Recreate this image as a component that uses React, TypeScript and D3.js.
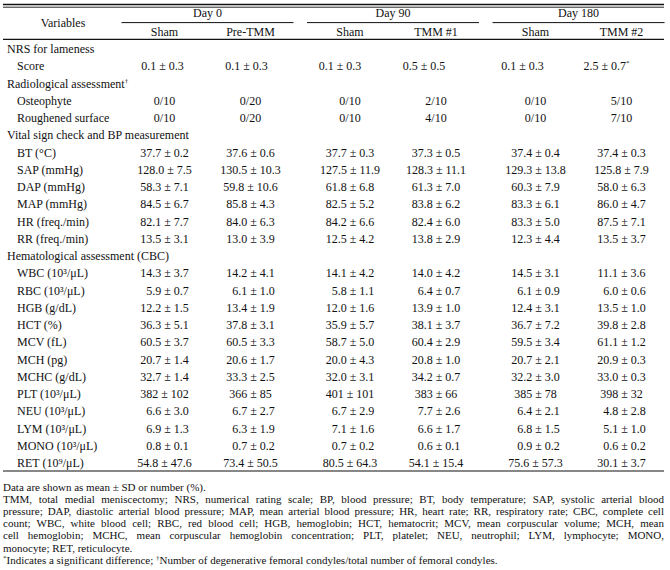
import React, { useMemo } from "react";
import * as d3 from "d3";

const groups = ["Day 0", "Day 90", "Day 180"];
const columns = ["Sham", "Pre-TMM", "Sham", "TMM #1", "Sham", "TMM #2"];
const columnGroup = ["Day 0", "Day 0", "Day 90", "Day 90", "Day 180", "Day 180"];

const rowLabels = [
  "NRS for lameness", "Score", "Radiological assessment", "Osteophyte", "Roughened surface",
  "Vital sign check and BP measurement", "BT (°C)", "SAP (mmHg)", "DAP (mmHg)", "MAP (mmHg)",
  "HR (freq./min)", "RR (freq./min)", "Hematological assessment (CBC)", "WBC (10³/μL)",
  "RBC (10³/μL)", "HGB (g/dL)", "HCT (%)", "MCV (fL)", "MCH (pg)", "MCHC (g/dL)",
  "PLT (10³/μL)", "NEU (10³/μL)", "LYM (10³/μL)", "MONO (10³/μL)", "RET (10⁹/μL)",
];
const sectionRows = [
  "NRS for lameness", "Radiological assessment",
  "Vital sign check and BP measurement", "Hematological assessment (CBC)",
];
const labelMarks: Record<string, string> = { "Radiological assessment": "†" };

const shamDay0 = ["", "0.1 ± 0.3", "", "0/10", "0/10", "", "37.7 ± 0.2", "128.0 ± 7.5", "58.3 ± 7.1", "84.5 ± 6.7", "82.1 ± 7.7", "13.5 ± 3.1", "", "14.3 ± 3.7", "5.9 ± 0.7", "12.2 ± 1.5", "36.3 ± 5.1", "60.5 ± 3.7", "20.7 ± 1.4", "32.7 ± 1.4", "382 ± 102", "6.6 ± 3.0", "6.9 ± 1.3", "0.8 ± 0.1", "54.8 ± 47.6"];
const preTMM = ["", "0.1 ± 0.3", "", "0/20", "0/20", "", "37.6 ± 0.6", "130.5 ± 10.3", "59.8 ± 10.6", "85.8 ± 4.3", "84.0 ± 6.3", "13.0 ± 3.9", "", "14.2 ± 4.1", "6.1 ± 1.0", "13.4 ± 1.9", "37.8 ± 3.1", "60.5 ± 3.3", "20.6 ± 1.7", "33.3 ± 2.5", "366 ± 85", "6.7 ± 2.7", "6.3 ± 1.9", "0.7 ± 0.2", "73.4 ± 50.5"];
const shamDay90 = ["", "0.1 ± 0.3", "", "0/10", "0/10", "", "37.7 ± 0.3", "127.5 ± 11.9", "61.8 ± 6.8", "82.5 ± 5.2", "84.2 ± 6.6", "12.5 ± 4.2", "", "14.1 ± 4.2", "5.8 ± 1.1", "12.0 ± 1.6", "35.9 ± 5.7", "58.7 ± 5.0", "20.0 ± 4.3", "32.0 ± 3.1", "401 ± 101", "6.7 ± 2.9", "7.1 ± 1.6", "0.7 ± 0.2", "80.5 ± 64.3"];
const tmm1 = ["", "0.5 ± 0.5", "", "2/10", "4/10", "", "37.3 ± 0.5", "128.3 ± 11.1", "61.3 ± 7.0", "83.8 ± 6.2", "82.4 ± 6.0", "13.8 ± 2.9", "", "14.0 ± 4.2", "6.4 ± 0.7", "13.9 ± 1.0", "38.1 ± 3.7", "60.4 ± 2.9", "20.8 ± 1.0", "34.2 ± 0.7", "383 ± 66", "7.7 ± 2.6", "6.6 ± 1.7", "0.6 ± 0.1", "54.1 ± 15.4"];
const shamDay180 = ["", "0.1 ± 0.3", "", "0/10", "0/10", "", "37.4 ± 0.4", "129.3 ± 13.8", "60.3 ± 7.9", "83.3 ± 6.1", "83.3 ± 5.0", "12.3 ± 4.4", "", "14.5 ± 3.1", "6.1 ± 0.9", "12.4 ± 3.1", "36.7 ± 7.2", "59.5 ± 3.4", "20.7 ± 2.1", "32.2 ± 3.0", "385 ± 78", "6.4 ± 2.1", "6.8 ± 1.5", "0.9 ± 0.2", "75.6 ± 57.3"];
const tmm2 = ["", "2.5 ± 0.7*", "", "5/10", "7/10", "", "37.4 ± 0.3", "125.8 ± 7.9", "58.0 ± 6.3", "86.0 ± 4.7", "87.5 ± 7.1", "13.5 ± 3.7", "", "11.1 ± 3.6", "6.0 ± 0.6", "13.5 ± 1.0", "39.8 ± 2.8", "61.1 ± 1.2", "20.9 ± 0.3", "33.0 ± 0.3", "398 ± 32", "4.8 ± 2.8", "5.1 ± 1.0", "0.6 ± 0.2", "30.1 ± 3.7"];
const columnValues = [shamDay0, preTMM, shamDay90, tmm1, shamDay180, tmm2];

const footnoteLines = [
  "Data are shown as mean ± SD or number (%).",
  "TMM, total medial meniscectomy; NRS, numerical rating scale; BP, blood pressure; BT, body temperature; SAP, systolic arterial blood",
  "pressure; DAP, diastolic arterial blood pressure; MAP, mean arterial blood pressure; HR, heart rate; RR, respiratory rate; CBC, complete cell",
  "count; WBC, white blood cell; RBC, red blood cell; HGB, hemoglobin; HCT, hematocrit; MCV, mean corpuscular volume; MCH, mean",
  "cell hemoglobin; MCHC, mean corpuscular hemoglobin concentration; PLT, platelet; NEU, neutrophil; LYM, lymphocyte; MONO,",
  "monocyte; RET, reticulocyte.",
];
const justified = [false, true, true, true, true, false];
const noteStar = "Indicates a significant difference; ";
const noteDagger = "Number of degenerative femoral condyles/total number of femoral condyles.";

const W = 670;
const H = 570;
const FONT = "'Liberation Serif', 'Times New Roman', serif";
const INK = "#111";

export default function App() {
  const left = 3;
  const right = 664;
  const yRow = d3.scalePoint<number>().domain(d3.range(rowLabels.length)).range([49, 463]);
  const xGroup = d3.scaleBand<string>().domain(groups).range([114.75, 671.25]);
  const xInner = d3.scaleBand<string>().domain(["first", "second"]).range([-86, 86]);
  const colX = columns.map((_, i) => {
    const g = columnGroup[i];
    const inner = i % 2 === 0 ? "first" : "second";
    return (xGroup(g) as number) + xGroup.bandwidth() / 2 + (xInner(inner) as number) + xInner.bandwidth() / 2;
  });
  const scoreShift = [-2, -4, -10, -12, -13, -15];

  const fnY = d3.scalePoint<number>().domain(d3.range(7)).range([487, 560]);

  const justifiedWords = useMemo(() => {
    const canvas = document.createElement("canvas");
    const ctx = canvas.getContext("2d")!;
    ctx.font = `11px ${FONT}`;
    return footnoteLines.map((line, li) => {
      const words = line.split(" ");
      if (!justified[li]) return null;
      const widths = words.map((w) => ctx.measureText(w).width);
      const total = d3.sum(widths);
      const gap = (right - left - total) / (words.length - 1);
      let x = left;
      return words.map((w, i) => {
        const pos = x;
        x += widths[i] + gap;
        return { w, x: pos };
      });
    });
  }, []);

  return (
    <svg
      width={W}
      height={H}
      style={{ position: "absolute", left: 0, top: 0, background: "#fff" }}
      fontFamily={FONT}
    >
      <rect width={W} height={H} fill="#fff" />
      <line x1={left} x2={right} y1={4.5} y2={4.5} stroke={INK} strokeWidth={1.3} />
      <line x1={left} x2={right} y1={7.2} y2={7.2} stroke={INK} strokeWidth={0.9} />

      <text x={63} y={27} textAnchor="middle" fontSize={12} fill={INK}>Variables</text>

      {groups.map((g) => {
        const cx = (xGroup(g) as number) + xGroup.bandwidth() / 2;
        return (
          <g key={g}>
            <text x={cx} y={17} textAnchor="middle" fontSize={12} fill={INK}>{g}</text>
            <line x1={cx - 86} x2={cx + 86} y1={22.6} y2={22.6} stroke={INK} strokeWidth={1} />
          </g>
        );
      })}
      {columns.map((c, i) => (
        <text key={i} x={colX[i]} y={35.5} textAnchor="middle" fontSize={12} fill={INK}>{c}</text>
      ))}
      <line x1={left} x2={right} y1={39.4} y2={39.4} stroke={INK} strokeWidth={1.2} />

      {rowLabels.map((label, r) => {
        const y = (yRow(r) as number) + 4;
        const isSection = sectionRows.includes(label);
        return (
          <g key={r}>
            <text x={isSection ? 7 : 17} y={y} fontSize={12} fill={INK}>
              {label}
              {labelMarks[label] && (
                <tspan fontSize={7} dy={-5}>{labelMarks[label]}</tspan>
              )}
            </text>
            {columnValues.map((vals, c) => {
              const v = vals[r];
              if (!v) return null;
              const star = v.endsWith("*");
              const base = star ? v.slice(0, -1) : v;
              let x = colX[c];
              if (r === 1) x += scoreShift[c];
              else if (/^\d\./.test(base)) x += 3;
              return (
                <text key={c} x={x} y={y} textAnchor="middle" fontSize={12} fill={INK}>
                  {base}
                  {star && <tspan fontSize={7} dy={-5}>*</tspan>}
                </text>
              );
            })}
          </g>
        );
      })}

      <line x1={left} x2={right} y1={471} y2={471} stroke={INK} strokeWidth={1.2} />

      {footnoteLines.map((line, li) => {
        const y = (fnY(li) as number) + 3.8;
        const words = justifiedWords[li];
        if (!words) {
          return (
            <text key={li} x={left} y={y} fontSize={11} fill={INK}>{line}</text>
          );
        }
        return (
          <g key={li}>
            {words.map((wd, wi) => (
              <text key={wi} x={wd.x} y={y} fontSize={11} fill={INK}>{wd.w}</text>
            ))}
          </g>
        );
      })}
      <text x={left} y={(fnY(6) as number) + 3.8} fontSize={11} fill={INK}>
        <tspan fontSize={7} dy={-4}>*</tspan>
        <tspan dy={4}>{noteStar}</tspan>
        <tspan fontSize={7} dy={-4}>†</tspan>
        <tspan dy={4}>{noteDagger}</tspan>
      </text>
    </svg>
  );
}
